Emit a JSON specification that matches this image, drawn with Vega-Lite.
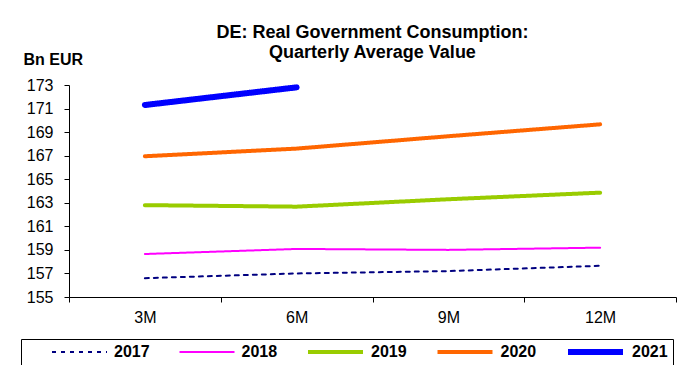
{
  "$schema": "https://vega.github.io/schema/vega-lite/v6.json",
  "width": 607,
  "height": 212,
  "autosize": "none",
  "padding": {"left": 69, "top": 85, "right": 17, "bottom": 68},
  "background": "white",
  "config": {
    "view": {"stroke": null},
    "font": "Liberation Sans",
    "axis": {"labelFont": "Liberation Sans", "labelColor": "#000000", "domainColor": "#000000", "tickColor": "#000000", "labelFontSize": 16, "grid": false}
  },
  "title": {
    "text": ["DE: Real Government Consumption:", "Quarterly Average Value"],
    "font": "Liberation Sans",
    "fontSize": 18,
    "fontWeight": "bold",
    "color": "#000000",
    "anchor": "middle",
    "frame": "group",
    "lineHeight": 20,
    "offset": -11
  },
  "data": {
    "values": [
      {"period": "3M", "year": "2017", "value": 156.6},
      {"period": "6M", "year": "2017", "value": 157.0},
      {"period": "9M", "year": "2017", "value": 157.2},
      {"period": "12M", "year": "2017", "value": 157.65},
      {"period": "3M", "year": "2018", "value": 158.65},
      {"period": "6M", "year": "2018", "value": 159.08},
      {"period": "9M", "year": "2018", "value": 159.0},
      {"period": "12M", "year": "2018", "value": 159.19},
      {"period": "3M", "year": "2019", "value": 162.8},
      {"period": "6M", "year": "2019", "value": 162.67},
      {"period": "9M", "year": "2019", "value": 163.3},
      {"period": "12M", "year": "2019", "value": 163.86},
      {"period": "3M", "year": "2020", "value": 166.95},
      {"period": "6M", "year": "2020", "value": 167.6},
      {"period": "9M", "year": "2020", "value": 168.65},
      {"period": "12M", "year": "2020", "value": 169.66},
      {"period": "3M", "year": "2021", "value": 171.3},
      {"period": "6M", "year": "2021", "value": 172.8}
    ]
  },
  "mark": {"type": "line", "strokeCap": "round", "strokeJoin": "round"},
  "encoding": {
    "x": {
      "field": "period",
      "type": "ordinal",
      "sort": ["3M", "6M", "9M", "12M"],
      "scale": {"type": "band", "paddingInner": 0, "paddingOuter": 0},
      "axis": {"title": null, "tickBand": "extent", "labelAngle": 0, "tickSize": 5, "labelPadding": 7}
    },
    "y": {
      "field": "value",
      "type": "quantitative",
      "scale": {"domain": [155, 173], "zero": false, "nice": false},
      "axis": {
        "values": [155, 157, 159, 161, 163, 165, 167, 169, 171, 173],
        "tickSize": 5,
        "labelPadding": 11,
        "title": "Bn EUR",
        "titleAngle": 0,
        "titleFont": "Liberation Sans",
        "titleFontSize": 16,
        "titleFontWeight": "bold",
        "titleColor": "#000000",
        "titleAlign": "left",
        "titleBaseline": "alphabetic",
        "titleX": -46,
        "titleY": -21
      }
    },
    "color": {
      "field": "year",
      "type": "nominal",
      "scale": {"domain": ["2017", "2018", "2019", "2020", "2021"], "range": ["#000080", "#FF00FF", "#99CC00", "#FF6600", "#0000FF"]},
      "legend": {
        "orient": "none",
        "legendX": -48,
        "legendY": 254,
        "direction": "horizontal",
        "title": " ",
        "titleOrient": "left",
        "titlePadding": 25,
        "symbolType": "stroke",
        "symbolSize": 3025,
        "clipHeight": 16,
        "labelFont": "Liberation Sans",
        "labelFontSize": 16,
        "labelFontWeight": "bold",
        "labelColor": "#000000",
        "labelOffset": 6,
        "columnPadding": 28.5,
        "padding": 5,
        "strokeColor": "#000000",
        "fillColor": "#FFFFFF"
      }
    },
    "strokeDash": {
      "field": "year",
      "type": "nominal",
      "scale": {"domain": ["2017", "2018", "2019", "2020", "2021"], "range": [[4, 5], [1, 0], [1, 0], [1, 0], [1, 0]]}
    },
    "strokeWidth": {
      "field": "year",
      "type": "nominal",
      "scale": {"type": "ordinal", "domain": ["2017", "2018", "2019", "2020", "2021"], "range": [2, 2, 4, 4, 6]}
    }
  }
}
